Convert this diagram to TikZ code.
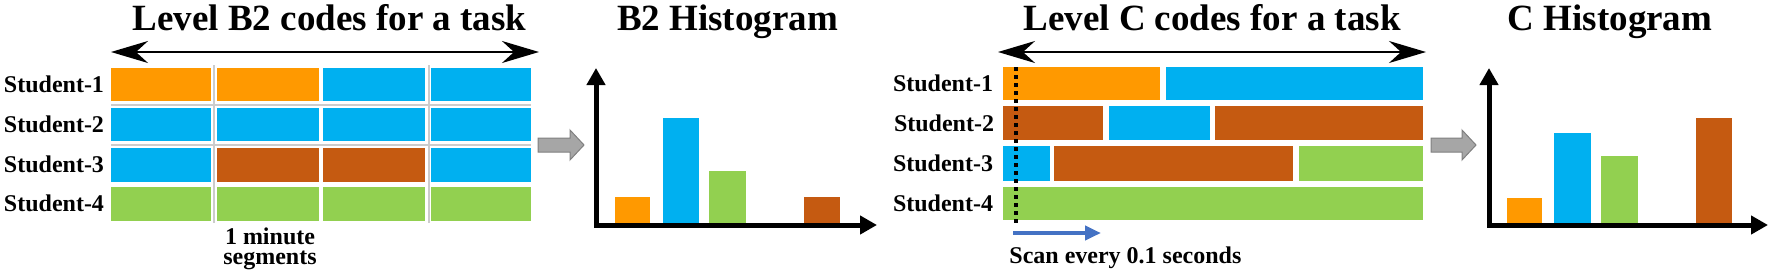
\documentclass[tikz,border=0pt]{standalone}
\usepackage{fontspec}
\setmainfont{Liberation Serif}
\usetikzlibrary{arrows.meta}
\definecolor{cOr}{HTML}{FF9900}
\definecolor{cBl}{HTML}{00B0F0}
\definecolor{cBr}{HTML}{C55A11}
\definecolor{cGr}{HTML}{92D050}
\definecolor{cScan}{HTML}{4472C4}
\definecolor{blkgray}{HTML}{A6A6A6}
\definecolor{blkedge}{HTML}{808080}
\definecolor{gridgray}{HTML}{CCCCCC}
\begin{document}
\begin{tikzpicture}[x=0.5pt,y=-0.5pt,
  title/.style={font=\fontsize{18.5}{22}\selectfont\bfseries, inner sep=0pt, anchor=base},
  lab/.style={font=\fontsize{12}{14}\selectfont\bfseries, inner sep=0pt, anchor=base},
  spanarrow/.style={line width=1pt, {Stealth[length=18.5pt,width=11pt,inset=6pt]}-{Stealth[length=18.5pt,width=11pt,inset=6pt]}},
  axis/.style={line width=2.5pt, line join=miter, {Triangle[length=8.5pt,width=9pt]}-{Triangle[length=8.5pt,width=9pt]}},
  gridln/.style={draw=gridgray, line width=1pt},
  block/.style={fill=blkgray, draw=blkedge, line width=0.5pt},
  scan/.style={draw=cScan, line width=2pt, -{Triangle[length=8pt,width=7pt]}},
  dots/.style={line width=2pt, dash pattern=on 2pt off 2pt}
]
\useasboundingbox (0,0) rectangle (1772,274);

% ---------------- B2 codes ----------------
\node[title] (tB2) at (329.5,30.5) {Level B2 codes for a task};
\coordinate (b2L) at (111,52);
\coordinate (b2R) at (539,52);
\draw[spanarrow] (b2L) -- (b2R);

\draw[gridln] (214,65) -- (214,223);
\draw[gridln] (428.5,65) -- (428.5,223);
\draw[gridln] (111,104.5) -- (531,104.5);
\draw[gridln] (111,144.5) -- (531,144.5);

% row 1
\fill[cOr] (111,68) rectangle (211,101);
\fill[cOr] (217,68) rectangle (319,101);
\fill[cBl] (323,68) rectangle (425,101);
\fill[cBl] (431,68) rectangle (531,101);
% row 2
\fill[cBl] (111,108) rectangle (211,141);
\fill[cBl] (217,108) rectangle (319,141);
\fill[cBl] (323,108) rectangle (425,141);
\fill[cBl] (431,108) rectangle (531,141);
% row 3
\fill[cBl] (111,148) rectangle (211,182);
\fill[cBr] (217,148) rectangle (319,182);
\fill[cBr] (323,148) rectangle (425,182);
\fill[cBl] (431,148) rectangle (531,182);
% row 4
\fill[cGr] (111,187) rectangle (211,221);
\fill[cGr] (217,187) rectangle (319,221);
\fill[cGr] (323,187) rectangle (425,221);
\fill[cGr] (431,187) rectangle (531,221);

\node[lab] (s1) at (54,92) {Student-1};
\node[lab] (s2) at (54,132) {Student-2};
\node[lab] (s3) at (54,172) {Student-3};
\node[lab] (s4) at (54,211) {Student-4};

\node[lab, align=center, font=\fontsize{12}{10}\selectfont\bfseries] (seg) at (270,264) {1 minute\\segments};

\draw[block] (538,138) -- (570,138) -- (570,130) -- (584,145) -- (570,160) -- (570,152) -- (538,152) -- cycle;

% ---------------- B2 histogram ----------------
\node[title] (tHB2) at (727.5,30.5) {B2 Histogram};
\fill[cOr] (615,197) rectangle (650,222.5);
\fill[cBl] (663,118) rectangle (699,222.5);
\fill[cGr] (709,171) rectangle (746,222.5);
\fill[cBr] (804,197) rectangle (840,222.5);
\coordinate (hb2y) at (596,68);
\coordinate (hb2x) at (877,225);
\draw[axis] (hb2y) |- (hb2x);

% ---------------- C codes ----------------
\node[title] (tC) at (1212,30.5) {Level C codes for a task};
\coordinate (cL) at (998,52);
\coordinate (cR) at (1426,52);
\draw[spanarrow] (cL) -- (cR);

\fill[cOr] (1002.5,67) rectangle (1160,100);
\fill[cBl] (1166,67) rectangle (1423,100);

\fill[cBr] (1002.5,106) rectangle (1102.5,140);
\fill[cBl] (1108.5,106) rectangle (1210,140);
\fill[cBr] (1215,106) rectangle (1423,140);

\fill[cBl] (1002.5,146) rectangle (1050,181);
\fill[cBr] (1054,146) rectangle (1293,181);
\fill[cGr] (1298.5,146) rectangle (1423,181);

\fill[cGr] (1002.5,187) rectangle (1423,220);

\node[lab] (c1) at (943,91.5) {Student-1};
\node[lab] (c2) at (944,131) {Student-2};
\node[lab] (c3) at (943,171.5) {Student-3};
\node[lab] (c4) at (943,211.5) {Student-4};

\coordinate (dTop) at (1015.5,67);
\coordinate (dBot) at (1015.5,224);
\draw[dots] (dTop) -- (dBot);

\coordinate (scA) at (1013,233);
\coordinate (scB) at (1101,233);
\draw[scan] (scA) -- (scB);
\node[lab, anchor=base west] (scantxt) at (1009,263) {Scan every 0.1 seconds};

\draw[block] (1431,138) -- (1462,138) -- (1462,130) -- (1476,145) -- (1462,160) -- (1462,152) -- (1431,152) -- cycle;

% ---------------- C histogram ----------------
\node[title] (tHC) at (1610,30.5) {C Histogram};
\fill[cOr] (1507,198) rectangle (1542,222.5);
\fill[cBl] (1554,133) rectangle (1591,222.5);
\fill[cGr] (1601,156) rectangle (1638,222.5);
\fill[cBr] (1696,118) rectangle (1732,222.5);
\coordinate (hcy) at (1489,68);
\coordinate (hcx) at (1768,225);
\draw[axis] (hcy) |- (hcx);
\end{tikzpicture}
\end{document}
